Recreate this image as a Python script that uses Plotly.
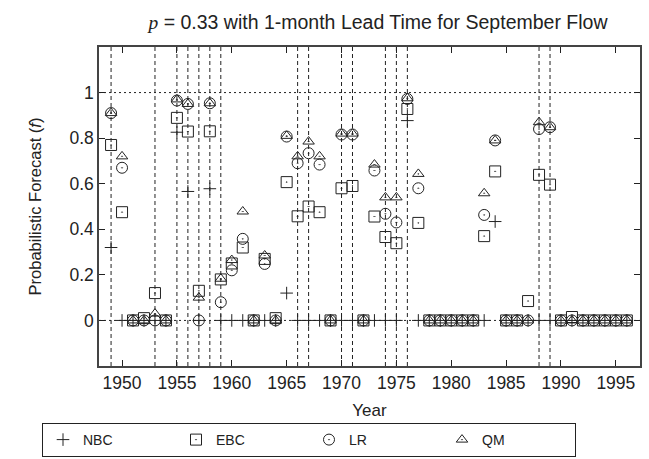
import plotly.graph_objects as go

years = list(range(1949, 1997))

nbc = [0.32, 0, 0, 0, 0, 0, 0.826, 0.566, 0, 0.578,
       0, 0, 0, 0, 0, 0, 0.12, 0, 0, 0,
       0, 0, 0, 0, 0, 0, 0, 0.877, 0, 0,
       0, 0, 0, 0, 0, 0.434, 0, 0, 0, 0,
       0, 0, 0, 0, 0, 0, 0, 0]
ebc = [0.77, 0.475, 0, 0.01, 0.12, 0, 0.889, 0.829, 0.13, 0.83,
       0.18, 0.25, 0.32, 0, 0.27, 0.01, 0.607, 0.457, 0.50, 0.475,
       0, 0.58, 0.59, 0, 0.456, 0.366, 0.339, 0.928, 0.428, 0,
       0, 0, 0, 0, 0.37, 0.654, 0, 0, 0.085, 0.639,
       0.596, 0, 0.015, 0, 0, 0, 0, 0]
lr = [0.91, 0.67, 0, 0, 0, 0, 0.965, 0.95, 0, 0.953,
      0.08, 0.22, 0.358, 0, 0.248, 0, 0.807, 0.69, 0.734, 0.684,
      0, 0.816, 0.816, 0, 0.658, 0.468, 0.43, 0.972, 0.58, 0,
      0, 0, 0, 0, 0.463, 0.79, 0, 0, 0, 0.84,
      0.848, 0, 0, 0, 0, 0, 0, 0]
qm = [0.91, 0.72, 0, 0, 0.03, 0, 0.97, 0.95, 0.10, 0.953,
      0.183, 0.265, 0.478, 0, 0.285, 0, 0.81, 0.72, 0.785, 0.72,
      0, 0.82, 0.82, 0, 0.684, 0.54, 0.54, 0.975, 0.643, 0,
      0, 0, 0, 0, 0.558, 0.79, 0, 0, 0, 0.87,
      0.848, 0, 0, 0, 0, 0, 0, 0]

event_years = [1949, 1953, 1955, 1956, 1957, 1958, 1959, 1966, 1967,
               1970, 1971, 1974, 1975, 1976, 1988, 1989]

x_ticks = list(range(1950, 1996, 5))
y_ticks = [0, 0.2, 0.4, 0.6, 0.8, 1]
y_tick_text = ["0", "0.2", "0.4", "0.6", "0.8", "1"]

INK = "#222222"
FONT = "Liberation Sans, Arial, sans-serif"

fig = go.Figure()

series = [
    ("NBC", nbc, "cross-thin-open", 9),
    ("EBC", ebc, "square-open-dot", 11),
    ("LR", lr, "circle-open-dot", 11),
    ("QM", qm, "triangle-up-open-dot", 10),
]
for name, vals, sym, size in series:
    fig.add_trace(go.Scatter(
        x=years, y=vals, mode="markers", name=name,
        marker=dict(symbol=sym, size=size, color=INK,
                    line=dict(color=INK, width=1)),
    ))

shapes = []
for yr in event_years:
    shapes.append(dict(type="line", xref="x", yref="paper", x0=yr, x1=yr,
                       y0=0, y1=1, line=dict(color=INK, width=1, dash="4px,3px"),
                       layer="below"))
for yv in [0, 1]:
    shapes.append(dict(type="line", xref="paper", yref="y", x0=0, x1=1,
                       y0=yv, y1=yv, line=dict(color=INK, width=1, dash="2px,3px"),
                       layer="below"))

fig.update_layout(
    width=649, height=459,
    margin=dict(l=99, r=9, t=47, b=93, autoexpand=False),
    paper_bgcolor="white", plot_bgcolor="white",
    font=dict(family=FONT, size=17, color=INK),
    title=dict(
        text="<span style='font-family:Liberation Serif, Times New Roman, serif'><i>p</i></span> = 0.33 with 1-month Lead Time for September Flow",
        x=378 / 649, xanchor="center", xref="container", y=1 - 22 / 459, yanchor="middle",
        font=dict(size=19.5),
    ),
    shapes=shapes,
    showlegend=True,
    legend=dict(
        orientation="h", xref="container", yref="container",
        x=42 / 649, xanchor="left", y=2 / 459, yanchor="bottom",
        bordercolor=INK, borderwidth=1, bgcolor="white",
        entrywidth=88, entrywidthmode="pixels",
        font=dict(size=14), itemclick=False, itemdoubleclick=False,
        tracegroupgap=0,
    ),
)

fig.update_xaxes(
    range=[1947.9, 1997.2], tickvals=x_ticks, ticks="inside", ticklen=6,
    tickcolor=INK, showline=True, linecolor="#444444", linewidth=1.5,
    mirror="ticks", showgrid=False, zeroline=False,
    title=dict(text="Year", standoff=12, font=dict(size=17)), tickfont=dict(size=17.5),
)
fig.update_yaxes(
    range=[-0.2, 1.2], tickvals=y_ticks, ticktext=y_tick_text, ticks="inside",
    ticklen=6, tickcolor=INK, showline=True, linecolor="#444444", linewidth=1.5,
    mirror="ticks", showgrid=False, zeroline=False,
    title=dict(text="Probabilistic Forecast (<i>f</i>)", standoff=24, font=dict(size=16.5)),
    tickfont=dict(size=17.5),
)

fig.write_html("out.html", config={"displayModeBar": False},
               post_script="document.body.style.margin='0';document.body.style.overflow='hidden';")
